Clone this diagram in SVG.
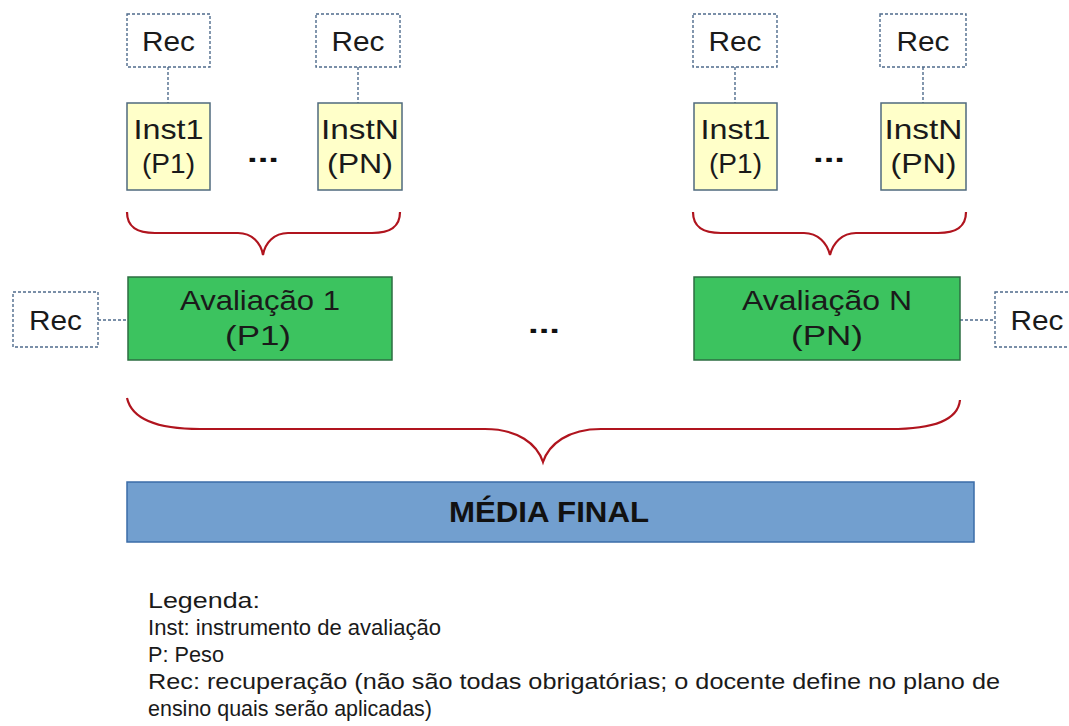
<svg xmlns="http://www.w3.org/2000/svg" width="1069" height="726" viewBox="0 0 1069 726">
<style>
  .rec { fill: #ffffff; stroke: #4f6b8c; stroke-width: 1.4; stroke-dasharray: 3 2; }
  .inst { fill: #ffffc9; stroke: #4f6a7d; stroke-width: 1.5; }
  .aval { fill: #3cc35f; stroke: #2c6e42; stroke-width: 1.5; }
  .media { fill: #729fcf; stroke: #3b6ca8; stroke-width: 1.5; }
  .conn { stroke: #4f6b8c; stroke-width: 1.4; stroke-dasharray: 3 2; fill: none; }
  .brace { fill: none; stroke: #b0141e; stroke-width: 2.2; }
  text { font-family: "Liberation Sans", Arial, sans-serif; fill: #1a1a1a; }
  .t { font-size: 28px; text-anchor: middle; }
  .b { font-size: 30px; font-weight: bold; text-anchor: middle; fill: #111; }
  .dots { font-size: 28px; font-weight: bold; text-anchor: middle; fill: #111; }
  .leg { font-size: 22px; }
</style>

<g id="connectors">
  <line class="conn" x1="168" y1="67" x2="168" y2="103"/>
  <line class="conn" x1="358" y1="67" x2="358" y2="103"/>
  <line class="conn" x1="735" y1="67" x2="735" y2="103"/>
  <line class="conn" x1="923" y1="67" x2="923" y2="103"/>
  <line class="conn" x1="98" y1="320" x2="128" y2="320"/>
  <line class="conn" x1="960" y1="320" x2="995" y2="320"/>
</g>

<g id="braces">
  <path class="brace" d="M127,212 C127,228 138,233 155,233 L238,233 C252,233 261,243 263,255 C265,243 274,233 288,233 L372,233 C389,233 400,228 400,212"/>
  <path class="brace" d="M693,212 C693,228 704,233 721,233 L804,233 C818,233 827,243 830,255 C833,243 842,233 856,233 L938,233 C955,233 966,228 966,212"/>
  <path class="brace" d="M127,398 C132,420 158,429 200,429 L485,429 C518,429 537,444 543,462 C549,444 568,429 601,429 L890,429 C935,429 958,420 960,400"/>
</g>

<g id="rec-inst1-left">
  <rect class="rec" x="127" y="14" width="83" height="53"/>
  <text class="t" x="168.5" y="51" textLength="53" lengthAdjust="spacingAndGlyphs">Rec</text>
</g>
<g id="rec-instN-left">
  <rect class="rec" x="316" y="14" width="84" height="53"/>
  <text class="t" x="358" y="51" textLength="53" lengthAdjust="spacingAndGlyphs">Rec</text>
</g>
<g id="rec-inst1-right">
  <rect class="rec" x="693" y="14" width="84" height="53"/>
  <text class="t" x="735" y="51" textLength="53" lengthAdjust="spacingAndGlyphs">Rec</text>
</g>
<g id="rec-instN-right">
  <rect class="rec" x="880" y="14" width="86" height="53"/>
  <text class="t" x="923" y="51" textLength="53" lengthAdjust="spacingAndGlyphs">Rec</text>
</g>

<g id="inst1-left">
  <rect class="inst" x="127" y="103" width="83" height="87"/>
  <text class="t" x="168.5" y="139" textLength="70" lengthAdjust="spacingAndGlyphs">Inst1</text>
  <text class="t" x="168.5" y="173" textLength="53" lengthAdjust="spacingAndGlyphs">(P1)</text>
</g>
<g id="instN-left">
  <rect class="inst" x="318" y="103" width="84" height="87"/>
  <text class="t" x="360" y="139" textLength="78" lengthAdjust="spacingAndGlyphs">InstN</text>
  <text class="t" x="360" y="173" textLength="66" lengthAdjust="spacingAndGlyphs">(PN)</text>
</g>
<g id="inst1-right">
  <rect class="inst" x="694" y="103" width="83" height="87"/>
  <text class="t" x="735.5" y="139" textLength="70" lengthAdjust="spacingAndGlyphs">Inst1</text>
  <text class="t" x="735.5" y="173" textLength="53" lengthAdjust="spacingAndGlyphs">(P1)</text>
</g>
<g id="instN-right">
  <rect class="inst" x="881" y="103" width="85" height="87"/>
  <text class="t" x="923.5" y="139" textLength="78" lengthAdjust="spacingAndGlyphs">InstN</text>
  <text class="t" x="923.5" y="173" textLength="66" lengthAdjust="spacingAndGlyphs">(PN)</text>
</g>

<g id="dots-left"><text class="dots" x="263" y="162" textLength="32" lengthAdjust="spacingAndGlyphs">...</text></g>
<g id="dots-right"><text class="dots" x="829" y="162" textLength="32" lengthAdjust="spacingAndGlyphs">...</text></g>
<g id="dots-middle"><text class="dots" x="544" y="333" textLength="32" lengthAdjust="spacingAndGlyphs">...</text></g>

<g id="rec-aval1">
  <rect class="rec" x="13" y="292" width="85" height="55"/>
  <text class="t" x="55.5" y="330" textLength="53" lengthAdjust="spacingAndGlyphs">Rec</text>
</g>
<g id="aval1">
  <rect class="aval" x="128" y="277" width="264" height="83"/>
  <text class="t" x="260" y="310" textLength="160" lengthAdjust="spacingAndGlyphs">Avaliação 1</text>
  <text class="t" x="258" y="345" textLength="66" lengthAdjust="spacingAndGlyphs">(P1)</text>
</g>
<g id="avalN">
  <rect class="aval" x="694" y="277" width="266" height="83"/>
  <text class="t" x="827" y="310" textLength="170" lengthAdjust="spacingAndGlyphs">Avaliação N</text>
  <text class="t" x="827" y="345" textLength="72" lengthAdjust="spacingAndGlyphs">(PN)</text>
</g>
<g id="rec-avalN">
  <rect class="rec" x="995" y="292" width="86" height="55"/>
  <text class="t" x="1037" y="330" textLength="53" lengthAdjust="spacingAndGlyphs">Rec</text>
</g>

<g id="media-final">
  <rect class="media" x="127" y="482" width="847" height="60"/>
  <text class="b" x="549" y="522" textLength="200" lengthAdjust="spacingAndGlyphs">MÉDIA FINAL</text>
</g>

<g id="legenda">
  <text class="leg" x="148" y="608" textLength="112" lengthAdjust="spacingAndGlyphs">Legenda:</text>
  <text class="leg" x="148" y="635" textLength="293" lengthAdjust="spacingAndGlyphs">Inst: instrumento de avaliação</text>
  <text class="leg" x="148" y="662" textLength="76" lengthAdjust="spacingAndGlyphs">P: Peso</text>
  <text class="leg" x="148" y="689" textLength="852" lengthAdjust="spacingAndGlyphs">Rec: recuperação (não são todas obrigatórias; o docente define no plano de</text>
  <text class="leg" x="148" y="716" textLength="284" lengthAdjust="spacingAndGlyphs">ensino quais serão aplicadas)</text>
</g>
</svg>
